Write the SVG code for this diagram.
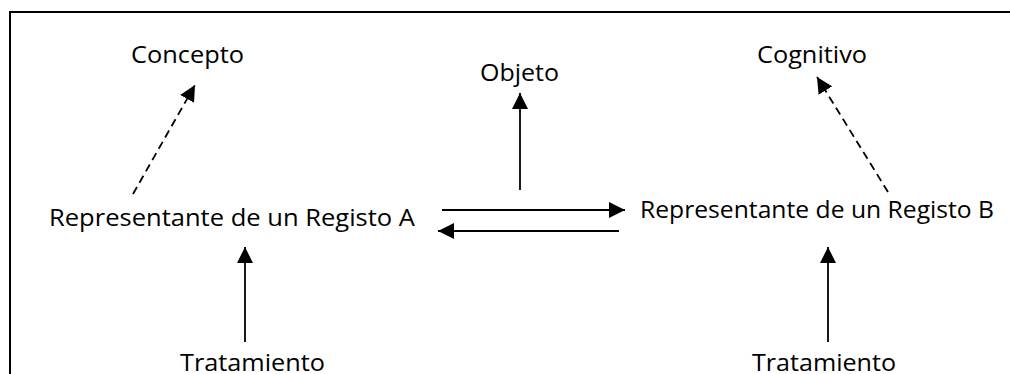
<svg xmlns="http://www.w3.org/2000/svg" width="1010" height="374" viewBox="0 0 1010 374">
  <style>
    .lbl { font-family: "Open Sans", "Liberation Sans", sans-serif; font-size: 24.5px; fill: #000; }
    .edge { stroke: #000; stroke-width: 1.8; fill: none; marker-end: url(#head); }
    .dash { stroke-dasharray: 8 5; }
    .frame { stroke: #000; stroke-width: 2; fill: none; }
  </style>
  <defs>
    <marker id="head" markerUnits="userSpaceOnUse" markerWidth="16" markerHeight="16" refX="16" refY="8" orient="auto">
      <path d="M0,0 L16,8 L0,16 Z" fill="#000"/>
    </marker>
  </defs>

  <rect width="1010" height="374" fill="#fff"/>
  <!-- outer frame (open on the right and bottom) -->
  <path class="frame" d="M10,374 V12 H1010"/>

  <g id="concepto">
    <text class="lbl" x="131" y="63" textLength="113" lengthAdjust="spacingAndGlyphs">Concepto</text>
  </g>
  <g id="objeto">
    <text class="lbl" x="480" y="81" textLength="79" lengthAdjust="spacingAndGlyphs">Objeto</text>
  </g>
  <g id="cognitivo">
    <text class="lbl" x="757" y="63" textLength="110" lengthAdjust="spacingAndGlyphs">Cognitivo</text>
  </g>
  <g id="registro-a">
    <text class="lbl" x="49" y="226" textLength="366" lengthAdjust="spacingAndGlyphs">Representante de un Registo A</text>
  </g>
  <g id="registro-b">
    <text class="lbl" x="640" y="218" textLength="354" lengthAdjust="spacingAndGlyphs">Representante de un Registo B</text>
  </g>
  <g id="tratamiento-a">
    <text class="lbl" x="180" y="371" textLength="145" lengthAdjust="spacingAndGlyphs">Tratamiento</text>
  </g>
  <g id="tratamiento-b">
    <text class="lbl" x="752" y="371" textLength="144" lengthAdjust="spacingAndGlyphs">Tratamiento</text>
  </g>

  <g id="connectors">
    <line class="edge dash" x1="133" y1="194" x2="195" y2="85"/>
    <line class="edge dash" x1="888" y1="192" x2="817" y2="77"/>
    <line class="edge" x1="520" y1="190" x2="520" y2="93"/>
    <line class="edge" x1="442" y1="210" x2="625" y2="210"/>
    <line class="edge" x1="619" y1="231" x2="438" y2="231"/>
    <line class="edge" x1="245" y1="342" x2="245" y2="247"/>
    <line class="edge" x1="828" y1="342" x2="828" y2="247"/>
  </g>
</svg>
